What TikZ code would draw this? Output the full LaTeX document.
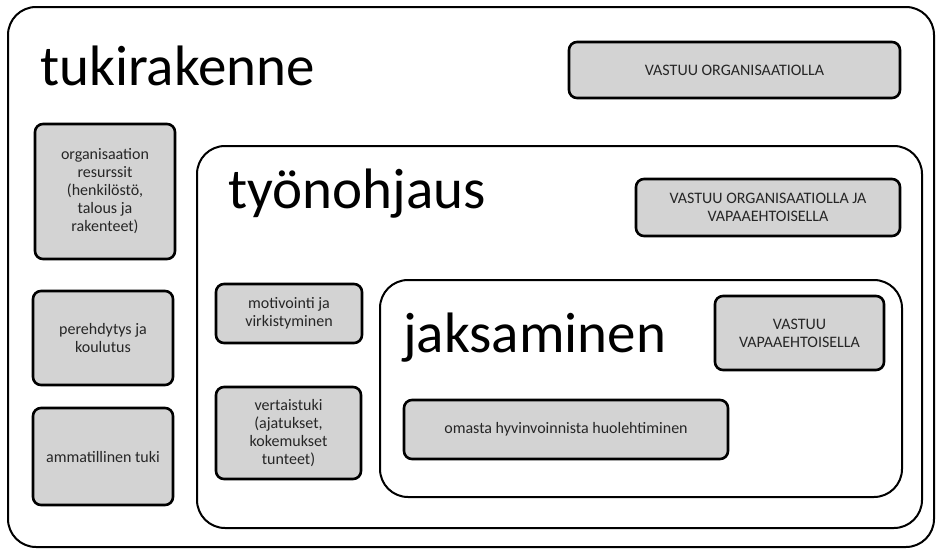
\documentclass[tikz,border=0pt]{standalone}
\usepackage{fontspec}
\setmainfont{Carlito}
\definecolor{boxgray}{RGB}{211,211,211}

\begin{document}
\begin{tikzpicture}[x=1pt, y=-1pt,
    area/.style={draw, line width=2pt, rounded corners=28pt, fill=white, inner sep=0pt},
    item/.style={draw, line width=2.6pt, rounded corners=8pt, fill=boxgray, align=center,
                 inner sep=0pt, text=black!85, font=\fontsize{16}{18}\selectfont},
    title/.style={anchor=base west, inner sep=0pt, font=\fontsize{57}{60}\selectfont}]
    \useasboundingbox (0,0) rectangle (942,554);
    % tukirakenne
    \node[area, minimum width=926pt, minimum height=540pt] (tuki) at (471,277) {};
    \node[title] (tukit) at (40,85) {tukirakenne};
    \node[item, minimum width=331pt, minimum height=56pt] (vorg) at (734.5,70) {VASTUU ORGANISAATIOLLA};
    \node[item, minimum width=140pt, minimum height=135pt] (res) at (105,191.5) {organisaation\\resurssit\\(henkilöstö,\\talous ja\\rakenteet)};
    \node[item, minimum width=140pt, minimum height=94pt] (pere) at (103,338) {perehdytys ja\\koulutus};
    \node[item, minimum width=140pt, minimum height=97pt] (amm) at (103,456.5) {ammatillinen tuki};
    % työnohjaus
    \node[area, minimum width=725pt, minimum height=382pt] (tyo) at (559.5,337) {};
    \node[title] (tyot) at (228,208) {työnohjaus};
    \node[item, minimum width=264pt, minimum height=57pt] (vorgja) at (768,207.5) {VASTUU ORGANISAATIOLLA JA\\VAPAAEHTOISELLA};
    \node[item, minimum width=146pt, minimum height=59pt] (moti) at (289,313.5) {motivointi ja\\virkistyminen};
    \node[item, minimum width=145pt, minimum height=92pt] (vert) at (288.5,433) {vertaistuki\\(ajatukset,\\kokemukset\\tunteet)};
    % jaksaminen
    \node[area, minimum width=522pt, minimum height=217pt] (jaks) at (641,388.5) {};
    \node[title] (jakst) at (403,352) {jaksaminen};
    \node[item, minimum width=169pt, minimum height=74pt] (vvap) at (799.5,333) {VASTUU\\VAPAAEHTOISELLA};
    \node[item, minimum width=324pt, minimum height=59pt] (oma) at (566,429.5) {omasta hyvinvoinnista huolehtiminen};
\end{tikzpicture}
\end{document}
